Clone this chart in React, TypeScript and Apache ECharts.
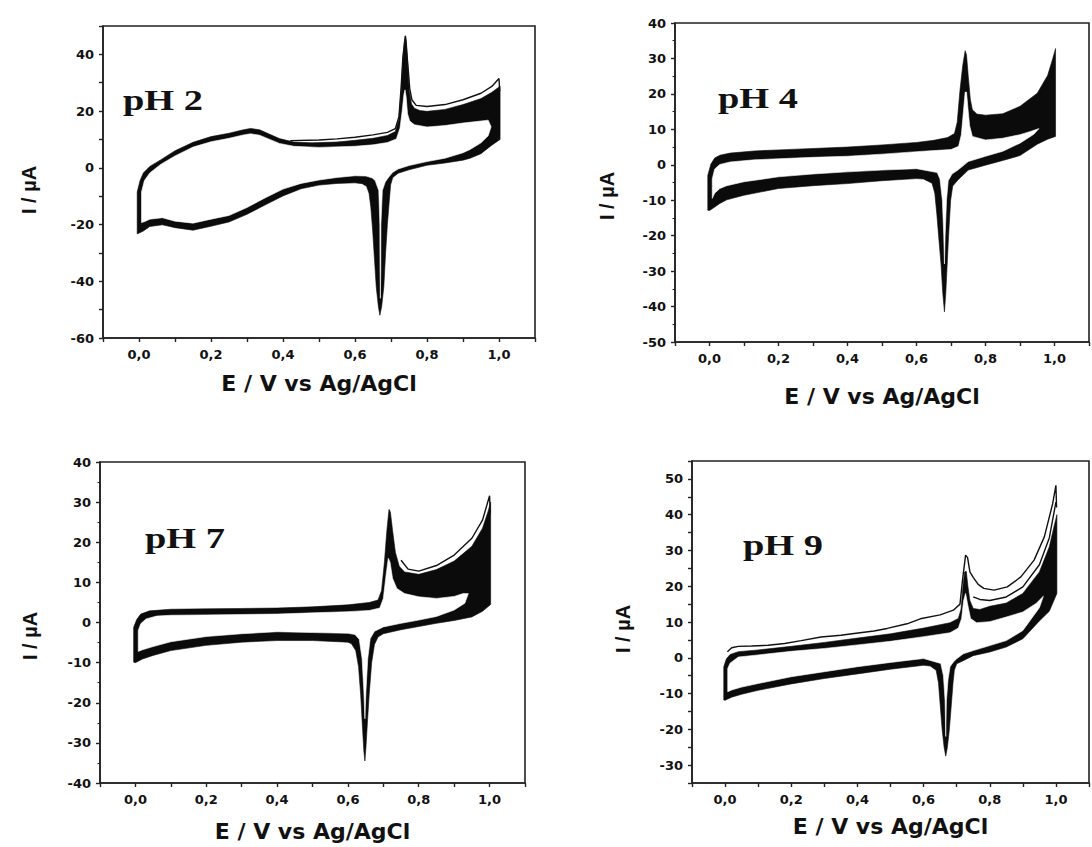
import React, { useEffect, useRef } from 'react';
import * as echarts from 'echarts';

// ---------- data ----------
const panelTitles = ['pH 2', 'pH 4', 'pH 7', 'pH 9'];
const xAxisTitle = 'E / V vs Ag/AgCl';
const yAxisTitle = 'I / µA';
const xMin = -0.1;
const xMax = 1.1;
const yMins = [-60, -50, -40, -35];
const yMaxs = [50, 40, 40, 55];
const yTickSteps = [10, 10, 10, 5];
const yLabelSteps = [20, 10, 10, 10];

// pH 2 : outer edge of the band of cycles (E / V, I / µA)
const ph2Outer = [
  [-0.005, -23.3], [-0.005, -8.5], [0.003, -4.5], [0.012, -1.8], [0.03, 0.5], [0.06, 2.8], [0.1, 6], [0.15, 9],
  [0.2, 11], [0.25, 12.2], [0.29, 13.4], [0.31, 13.9], [0.335, 13.4], [0.36, 12], [0.39, 10.3], [0.43, 9.1],
  [0.48, 8.8], [0.55, 9.1], [0.6, 9.7], [0.65, 10.4], [0.69, 11.4], [0.712, 12.8], [0.722, 17], [0.728, 27],
  [0.733, 38], [0.737, 44.5], [0.74, 46.5], [0.743, 44], [0.747, 35], [0.751, 27], [0.757, 22.5], [0.765, 21],
  [0.78, 20.2], [0.8, 19.9], [0.85, 20.6], [0.9, 22.3], [0.95, 24.4], [0.98, 26.6], [1.003, 28.8], [1.003, 10],
  [0.98, 8], [0.95, 5], [0.92, 3.4], [0.9, 2.7], [0.85, 1.7], [0.8, 0.9], [0.75, -0.7], [0.72, -1.9],
  [0.705, -3.4], [0.699, -6], [0.695, -12], [0.69, -20], [0.685, -30], [0.68, -42], [0.674, -49], [0.669, -52],
  [0.665, -49], [0.659, -42], [0.654, -32], [0.649, -22], [0.644, -14], [0.639, -9], [0.632, -6.5], [0.62, -5.6],
  [0.6, -5.3], [0.55, -5.5], [0.5, -6.1], [0.45, -7.4], [0.4, -9.9], [0.35, -13.1], [0.3, -16.4], [0.25, -19.1],
  [0.2, -20.6], [0.15, -22], [0.1, -21.1], [0.065, -20.1], [0.03, -20.7], [0.012, -22.3],
];
// pH 2 : inner edge of the band (the empty inside of the voltammogram)
const ph2Inner = [
  [0.007, -19.3], [0.007, -8.5], [0.015, -4.5], [0.03, -1.8], [0.06, 1.2], [0.1, 4.2], [0.15, 7.3], [0.2, 9.2],
  [0.25, 10.4], [0.29, 11.6], [0.31, 12], [0.335, 11.5], [0.36, 10.2], [0.39, 8.6], [0.43, 7.6], [0.5, 7.2],
  [0.6, 7.6], [0.65, 8.1], [0.69, 8.9], [0.715, 10.2], [0.725, 14], [0.731, 20], [0.736, 26], [0.739, 27.5],
  [0.742, 25], [0.746, 19], [0.752, 16.5], [0.765, 15.2], [0.8, 14.4], [0.85, 14.9], [0.9, 15.8], [0.95, 16.5],
  [0.97, 16.8], [0.978, 14.5], [0.97, 11.3], [0.95, 8.8], [0.92, 6.5], [0.9, 5.3], [0.85, 3.4], [0.8, 2.2],
  [0.75, 0.8], [0.72, -0.4], [0.705, -1.6], [0.694, -3.2], [0.684, -5], [0.676, -8], [0.672, -20], [0.6715, -36],
  [0.6705, -46], [0.6695, -36], [0.669, -20], [0.666, -8], [0.656, -4.5], [0.648, -3.6], [0.63, -2.9], [0.6, -2.8],
  [0.55, -3.4], [0.5, -4.3], [0.45, -5.5], [0.4, -7.5], [0.35, -10.6], [0.3, -14], [0.25, -16.8], [0.2, -18.1],
  [0.15, -19.5], [0.1, -18.8], [0.065, -17.6], [0.03, -18.1], [0.015, -19],
];
// pH 2 : first scan, drawn apart above the band
const ph2FirstScan = [
  [0.42, 9.6], [0.5, 9.8], [0.55, 10.2], [0.6, 10.8], [0.65, 11.6], [0.69, 12.5], [0.712, 13.8], [0.722, 18],
  [0.728, 28], [0.733, 39], [0.74, 46.5], [0.747, 36], [0.752, 28], [0.758, 24], [0.77, 22], [0.8, 21.6],
  [0.85, 22.3], [0.9, 24], [0.95, 26.3], [0.98, 28.7], [1.0, 31.5], [1.002, 27],
];

// pH 4
const ph4Outer = [
  [-0.005, -12.8], [-0.005, -3], [0.004, 0.2], [0.015, 1.9], [0.03, 2.7], [0.06, 3.3], [0.13, 3.9], [0.2, 4.2],
  [0.3, 4.6], [0.4, 5.0], [0.5, 5.6], [0.6, 6.3], [0.65, 6.9], [0.69, 7.7], [0.71, 8.8], [0.718, 12],
  [0.726, 21], [0.734, 28], [0.741, 32.2], [0.745, 31], [0.75, 25], [0.756, 18.5], [0.762, 15.5], [0.775, 14.3],
  [0.8, 14], [0.85, 14.4], [0.9, 16.5], [0.95, 20.2], [0.98, 25.2], [0.995, 30], [1.003, 32.8], [1.003, 8],
  [0.98, 7.2], [0.95, 5.8], [0.9, 2.6], [0.85, 1.2], [0.8, -0.1], [0.75, -1.5], [0.72, -4.3], [0.705, -6],
  [0.699, -10], [0.696, -15], [0.693, -20], [0.689, -28], [0.685, -36], [0.681, -41.5], [0.676, -36], [0.671, -28],
  [0.664, -20], [0.659, -14], [0.653, -8], [0.645, -5.2], [0.62, -4], [0.6, -3.9], [0.5, -4.5], [0.4, -5.3],
  [0.3, -5.9], [0.2, -6.7], [0.1, -8.6], [0.05, -9.9], [0.03, -10.9], [0.01, -12.3], [0.0, -12.9],
];
const ph4Inner = [
  [0.008, -9.5], [0.008, -4], [0.015, -1.2], [0.03, 0.1], [0.06, 0.8], [0.13, 1.4], [0.2, 1.7], [0.3, 2.1],
  [0.4, 2.4], [0.5, 3.0], [0.6, 3.7], [0.65, 4.0], [0.7, 4.3], [0.722, 5.2], [0.73, 8.5], [0.736, 15],
  [0.741, 20.5], [0.745, 20.5], [0.749, 16], [0.754, 11], [0.762, 8], [0.8, 7], [0.85, 7.5], [0.9, 8.5],
  [0.93, 9.4], [0.955, 10.2], [0.94, 8.6], [0.9, 6.1], [0.85, 3.8], [0.8, 2.4], [0.75, 0.9], [0.72, -1.5],
  [0.703, -2.6], [0.692, -4.5], [0.687, -10], [0.683, -20], [0.681, -28], [0.679, -20], [0.675, -10], [0.668, -4],
  [0.66, -2.2], [0.6, -1.1], [0.5, -1.5], [0.4, -2.0], [0.3, -2.6], [0.2, -3.4], [0.1, -4.8], [0.05, -5.9],
  [0.03, -6.7], [0.015, -8],
];

// pH 7
const ph7Outer = [
  [-0.005, -9.9], [-0.005, -1.2], [0.004, 0.8], [0.015, 2.1], [0.04, 2.9], [0.1, 3.3], [0.2, 3.4], [0.3, 3.5],
  [0.4, 3.6], [0.5, 3.9], [0.6, 4.4], [0.66, 5.0], [0.685, 5.6], [0.695, 8], [0.703, 15], [0.71, 23],
  [0.716, 28.2], [0.72, 27.5], [0.726, 23], [0.734, 17.5], [0.745, 14], [0.76, 12.6], [0.8, 12], [0.85, 13.2],
  [0.9, 15.3], [0.95, 19], [0.98, 23.5], [0.995, 27.5], [1.003, 30], [1.003, 4.5], [0.98, 2.8], [0.95, 1.4],
  [0.9, 0.5], [0.85, -0.2], [0.8, -1.0], [0.75, -1.8], [0.7, -2.8], [0.685, -3.6], [0.675, -5.5], [0.667, -10],
  [0.66, -18], [0.655, -25], [0.651, -31], [0.648, -34.5], [0.645, -32], [0.641, -26], [0.636, -18], [0.63, -11],
  [0.622, -7], [0.61, -5.3], [0.6, -4.9], [0.5, -4.5], [0.4, -4.5], [0.3, -4.9], [0.2, -5.7], [0.1, -7.0],
  [0.05, -8.2], [0.02, -9.1], [0.0, -10],
];
const ph7Inner = [
  [0.008, -7.2], [0.008, -2], [0.015, -0.3], [0.03, 0.9], [0.06, 1.6], [0.1, 1.8], [0.2, 1.9], [0.3, 2.0],
  [0.4, 2.1], [0.5, 2.4], [0.6, 2.7], [0.66, 3.0], [0.69, 3.6], [0.7, 6], [0.708, 12], [0.714, 16],
  [0.719, 15], [0.726, 11], [0.738, 8.5], [0.76, 7.2], [0.8, 6.4], [0.85, 6.0], [0.9, 6.5], [0.925, 7.2],
  [0.94, 7.2], [0.93, 4.8], [0.9, 3.1], [0.85, 1.5], [0.8, 0.6], [0.75, -0.2], [0.7, -1.1], [0.675, -2.2],
  [0.663, -4], [0.656, -9], [0.651, -17], [0.648, -24], [0.645, -17], [0.64, -9], [0.632, -4.2], [0.62, -3],
  [0.6, -2.7], [0.5, -2.5], [0.4, -2.3], [0.3, -2.8], [0.2, -3.5], [0.1, -4.8], [0.05, -6], [0.02, -6.8],
];
const ph7FirstScan = [
  [0.75, 15.5], [0.77, 13.3], [0.8, 12.8], [0.85, 14.2], [0.9, 16.8], [0.95, 21], [0.98, 25.5], [1.0, 31.6],
  [1.002, 27],
];

// pH 9
const ph9Outer = [
  [-0.004, -11.8], [-0.004, -2.5], [0.004, -0.3], [0.015, 0.9], [0.04, 1.7], [0.1, 2.2], [0.2, 3.2], [0.3, 4.3],
  [0.4, 5.5], [0.5, 6.7], [0.6, 8.3], [0.68, 9.8], [0.705, 11], [0.713, 13.5], [0.719, 20], [0.724, 24],
  [0.729, 24.2], [0.734, 20], [0.74, 16], [0.75, 13.8], [0.77, 13.5], [0.8, 14.4], [0.85, 15.3], [0.9, 18],
  [0.95, 24], [0.98, 31], [0.995, 37], [1.003, 40], [1.003, 18], [0.98, 13], [0.95, 10.3], [0.9, 5.3],
  [0.85, 3.0], [0.8, 1.6], [0.75, 0.6], [0.72, -0.8], [0.7, -1.7], [0.693, -3.5], [0.689, -7], [0.684, -13],
  [0.678, -20], [0.672, -25], [0.667, -27.5], [0.662, -25], [0.656, -20], [0.65, -13], [0.645, -7], [0.638, -3.5],
  [0.62, -2.3], [0.6, -2.1], [0.5, -3.2], [0.4, -4.5], [0.3, -5.8], [0.2, -7.3], [0.1, -9.1], [0.05, -10.2],
  [0.02, -11], [0.0, -11.9],
];
const ph9Inner = [
  [0.008, -9.5], [0.008, -3], [0.015, -1.5], [0.04, 0.2], [0.1, 0.8], [0.2, 1.8], [0.3, 2.6], [0.4, 3.6],
  [0.5, 4.6], [0.6, 5.9], [0.68, 7.0], [0.705, 8.3], [0.715, 11], [0.721, 16], [0.727, 18], [0.733, 15],
  [0.742, 11], [0.76, 9.8], [0.8, 10.1], [0.85, 11.4], [0.9, 12.8], [0.94, 15.2], [0.962, 17.2], [0.95, 14],
  [0.9, 7.6], [0.85, 4.8], [0.8, 3.4], [0.75, 2.0], [0.72, 1.1], [0.7, -0.3], [0.69, -1.2], [0.68, -2.5],
  [0.674, -6], [0.669, -12], [0.667, -22], [0.665, -12], [0.66, -5], [0.652, -1.6], [0.6, -0.2], [0.5, -1.3],
  [0.4, -2.5], [0.3, -3.9], [0.2, -5.3], [0.1, -7.2], [0.05, -8.2], [0.02, -9],
];
const ph9FirstScan = [
  [0.007, 1.7], [0.02, 2.8], [0.04, 3.2], [0.08, 3.3], [0.13, 3.5], [0.18, 4.0], [0.23, 4.8], [0.29, 5.8],
  [0.35, 6.3], [0.39, 6.8], [0.45, 7.5], [0.49, 8.2], [0.55, 9.5], [0.59, 10.9], [0.65, 12], [0.69, 13.3],
  [0.71, 15], [0.718, 22], [0.727, 28.7], [0.733, 28], [0.74, 24], [0.75, 22.5], [0.765, 20.5], [0.782, 19.4],
  [0.813, 18.9], [0.853, 19.8], [0.894, 22.6], [0.934, 27.3], [0.965, 33.8], [0.99, 43], [1.0, 48.2], [1.002, 42],
];
const ph9SecondScan = [
  [0.75, 17], [0.77, 16.3], [0.8, 16], [0.85, 17], [0.9, 19.8], [0.95, 26], [0.98, 33.5], [1.0, 43.5],
];

const panelOuter = [ph2Outer, ph4Outer, ph7Outer, ph9Outer];
const panelInner = [ph2Inner, ph4Inner, ph7Inner, ph9Inner];
const panelScans = [[ph2FirstScan], [], [ph7FirstScan], [ph9FirstScan, ph9SecondScan]];

// ---------- layout (pixels) ----------
const grids = [
  { left: 103, top: 26, width: 432, height: 312 },
  { left: 675, top: 23, width: 415, height: 319 },
  { left: 100, top: 462, width: 425, height: 321 },
  { left: 692, top: 461, width: 413, height: 322 },
];
const xNameGaps = [34, 43, 37, 32];
const yNameGaps = [64, 58, 60, 59];
const yNameShift = [16, 27, 27, 14];
const titlePos = [
  { x: 123, y: 100 },
  { x: 718, y: 98 },
  { x: 145, y: 538 },
  { x: 743, y: 545 },
];

const INK = '#111';
const tickFont = { color: INK, fontFamily: 'DejaVu Sans', fontWeight: 'bold' as const, fontSize: 13 };

function polygonSeries(points: number[][], idx: number, fill: string, z: number) {
  return {
    type: 'custom',
    xAxisIndex: idx,
    yAxisIndex: idx,
    z,
    silent: true,
    clip: true,
    data: points,
    renderItem: (params: any, api: any) => {
      if (params.dataIndex !== 0) return null;
      const pts = points.map((p) => api.coord(p));
      return {
        type: 'polygon',
        shape: { points: pts },
        style: { fill, stroke: fill, lineWidth: 0.6 },
      };
    },
  };
}

export default function App() {
  const ref = useRef<HTMLDivElement>(null);

  useEffect(() => {
    if (!ref.current) return;
    const chart = echarts.init(ref.current, null, { renderer: 'svg' });

    const xAxes = grids.map((_, i) => ({
      type: 'value',
      gridIndex: i,
      min: xMin,
      max: xMax,
      interval: 0.1,
      name: xAxisTitle,
      nameLocation: 'middle',
      nameGap: xNameGaps[i],
      nameTextStyle: { color: INK, fontFamily: 'DejaVu Sans', fontWeight: 'bold', fontSize: 22 },
      axisLine: { show: true, onZero: false, lineStyle: { color: '#222', width: 1.6 } },
      axisTick: { show: true, length: 4, lineStyle: { color: '#222', width: 1.4 } },
      splitLine: { show: false },
      axisLabel: {
        ...tickFont,
        margin: 10,
        formatter: (v: number) => {
          const k = Math.round(v * 10);
          if (k < 0 || k > 10 || k % 2 !== 0) return '';
          return (k / 10).toFixed(1).replace('.', ',');
        },
      },
    }));

    const yAxes = grids.map((_, i) => ({
      type: 'value',
      gridIndex: i,
      min: yMins[i],
      max: yMaxs[i],
      interval: yTickSteps[i],
      name: yAxisTitle,
      nameLocation: 'middle',
      nameGap: yNameGaps[i],
      nameTextStyle: {
        color: INK,
        fontFamily: 'Liberation Sans',
        fontWeight: 'bold',
        fontSize: 20,
        padding: [0, yNameShift[i], 0, 0],
      },
      axisLine: { show: true, onZero: false, lineStyle: { color: '#222', width: 1.6 } },
      axisTick: { show: true, length: 4, lineStyle: { color: '#222', width: 1.4 } },
      minorTick: i === 0 || i === 3 ? { show: false } : { show: true, splitNumber: 2, length: 2.5, lineStyle: { color: '#222', width: 1 } },
      splitLine: { show: false },
      axisLabel: {
        ...tickFont,
        margin: 9,
        formatter: (v: number) => {
          const r = Math.round(v);
          if (r % yLabelSteps[i] !== 0) return '';
          return String(r);
        },
      },
    }));

    const series: any[] = [];
    grids.forEach((_, i) => {
      series.push(polygonSeries(panelOuter[i], i, '#0b0b0b', 2));
      series.push(polygonSeries(panelInner[i], i, '#ffffff', 3));
      panelScans[i].forEach((scan) => {
        series.push({
          type: 'line',
          xAxisIndex: i,
          yAxisIndex: i,
          data: scan,
          showSymbol: false,
          symbol: 'none',
          silent: true,
          z: 4,
          lineStyle: { color: INK, width: 1.4 },
        });
      });
    });

    chart.setOption({
      animation: false,
      backgroundColor: '#ffffff',
      grid: grids.map((g) => ({
        ...g,
        show: true,
        backgroundColor: '#ffffff',
        borderColor: '#222',
        borderWidth: 1.6,
        containLabel: false,
      })),
      xAxis: xAxes,
      yAxis: yAxes,
      series,
      graphic: panelTitles.map((t, i) => ({
        type: 'text',
        x: titlePos[i].x,
        y: titlePos[i].y,
        scaleX: 1.28,
        z: 10,
        style: {
          text: t,
          fill: INK,
          fontFamily: '"Liberation Serif", "Times New Roman", serif',
          fontWeight: 'bold',
          fontSize: 30,
          align: 'left',
          verticalAlign: 'middle',
        },
      })),
    });

    return () => {
      chart.dispose();
    };
  }, []);

  return (
    <div
      ref={ref}
      style={{ position: 'fixed', left: 0, top: 0, width: 1092, height: 847, background: '#ffffff' }}
    />
  );
}
